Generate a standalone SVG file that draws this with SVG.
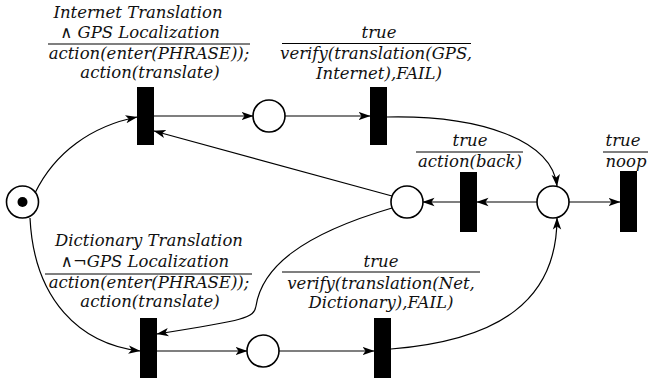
<svg xmlns="http://www.w3.org/2000/svg" width="648" height="384" viewBox="0 0 648 384" font-family="DejaVu Serif" font-style="italic" font-size="16.5">
  <style>
    .place { fill: #fff; stroke: #000; stroke-width: 1.6; }
    .trans { fill: #000; }
    .arc { fill: none; stroke: #000; stroke-width: 1.2; marker-end: url(#head); }
    .lbl { fill: #111; text-anchor: middle; }
    .bar { stroke: #000; stroke-width: 1.2; }
  </style>
  <defs>
    <marker id="head" viewBox="0 0 12 10" refX="11.5" refY="5" markerWidth="12" markerHeight="10" markerUnits="userSpaceOnUse" orient="auto">
      <path d="M0,0.8 L12,5 L0,9.2 L3,5 Z" fill="#000"/>
    </marker>
  </defs>

  <!-- arcs -->
  <g id="connectors">
    <path class="arc" d="M35,193 C55,152 92,126 137,117"/>
    <path class="arc" d="M30,218 C34,300 80,344 140,351"/>
    <path class="arc" d="M154,116 L253,116"/>
    <path class="arc" d="M285,116 L370,116"/>
    <path class="arc" d="M387,117 C480,115 552,140 557,186"/>
    <path class="arc" d="M537,202 L477,202"/>
    <path class="arc" d="M460,202 L423,202"/>
    <path class="arc" d="M569,202 L620,202"/>
    <path class="arc" d="M391,349 C500,340 557,300 557,218"/>
    <path class="arc" d="M392,196 L154,131"/>
    <path class="arc" d="M392,208 C300,235 262,268 256,306 C254,318 246,320 157,334"/>
    <path class="arc" d="M157,351 L247,351"/>
    <path class="arc" d="M279,351 L374,351"/>
  </g>

  <!-- places -->
  <g id="p-start">
    <circle class="place" cx="22.5" cy="202" r="16"/>
    <circle cx="22.5" cy="202" r="5" fill="#000"/>
  </g>
  <g id="p-top"><circle class="place" cx="269" cy="116" r="16"/></g>
  <g id="p-retry"><circle class="place" cx="407" cy="202" r="16"/></g>
  <g id="p-result"><circle class="place" cx="553" cy="202" r="16"/></g>
  <g id="p-bottom"><circle class="place" cx="263" cy="351" r="16"/></g>

  <!-- transitions with guard / action labels -->
  <g id="t-internet">
    <rect class="trans" x="137" y="87" width="17" height="58"/>
    <text class="lbl" x="138" y="18">Internet Translation</text>
    <text class="lbl" x="140" y="38">∧ GPS Localization</text>
    <line class="bar" x1="48" y1="44" x2="250" y2="44"/>
    <text class="lbl" x="149" y="59">action(enter(PHRASE));</text>
    <text class="lbl" x="150" y="78">action(translate)</text>
  </g>
  <g id="t-verify-gps">
    <rect class="trans" x="370" y="87" width="17" height="58"/>
    <text class="lbl" x="379" y="38">true</text>
    <line class="bar" x1="282" y1="43.5" x2="471" y2="43.5"/>
    <text class="lbl" x="376" y="59">verify(translation(GPS,</text>
    <text class="lbl" x="379" y="79">Internet),FAIL)</text>
  </g>
  <g id="t-back">
    <rect class="trans" x="460" y="172" width="17" height="60"/>
    <text class="lbl" x="470" y="146">true</text>
    <line class="bar" x1="416" y1="152" x2="523" y2="152"/>
    <text class="lbl" x="470" y="167">action(back)</text>
  </g>
  <g id="t-noop">
    <rect class="trans" x="620" y="171" width="17" height="61"/>
    <text class="lbl" x="623" y="146">true</text>
    <line class="bar" x1="603" y1="152" x2="648" y2="152"/>
    <text class="lbl" x="626" y="167">noop</text>
  </g>
  <g id="t-dictionary">
    <rect class="trans" x="140" y="318" width="17" height="60"/>
    <text class="lbl" x="149" y="246">Dictionary Translation</text>
    <text class="lbl" x="145" y="267">∧¬GPS Localization</text>
    <line class="bar" x1="45" y1="274" x2="252" y2="274"/>
    <text class="lbl" x="149" y="288">action(enter(PHRASE));</text>
    <text class="lbl" x="150" y="307">action(translate)</text>
  </g>
  <g id="t-verify-net">
    <rect class="trans" x="374" y="318" width="17" height="60"/>
    <text class="lbl" x="381" y="267">true</text>
    <line class="bar" x1="282" y1="272" x2="480" y2="272"/>
    <text class="lbl" x="381" y="289">verify(translation(Net,</text>
    <text class="lbl" x="381" y="308">Dictionary),FAIL)</text>
  </g>
</svg>
